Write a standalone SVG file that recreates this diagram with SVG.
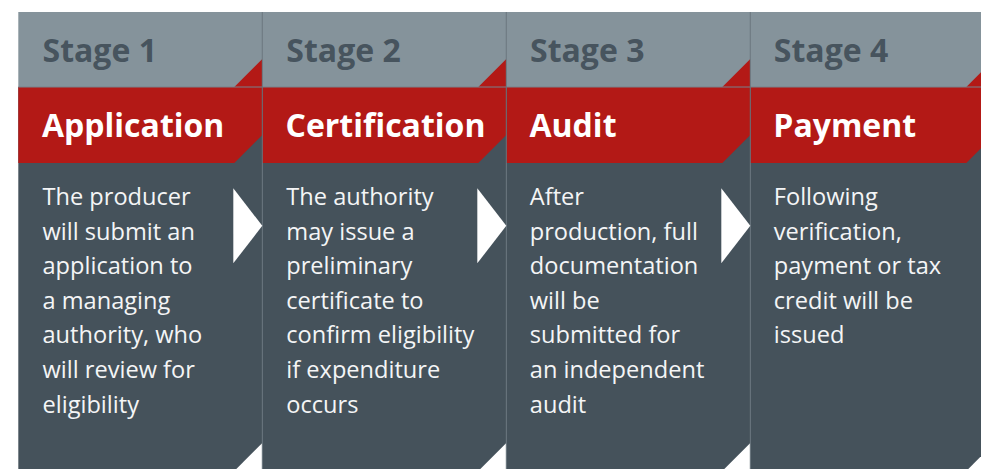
<svg xmlns="http://www.w3.org/2000/svg" width="981" height="469" viewBox="0 0 981 469">
<style>
.hdr{fill:#85939b}
.band{fill:#b31916}
.body{fill:#45525b}
.stage{font-family:"Open Sans","Liberation Sans",sans-serif;font-weight:700;font-size:32px;fill:#47545e}
.title{font-family:"Open Sans","Liberation Sans",sans-serif;font-weight:700;font-size:32px;fill:#ffffff}
.txt{font-family:"Open Sans","Liberation Sans",sans-serif;font-weight:400;font-size:23.6px;fill:#f4f5f6}
.div{stroke:#66727b;stroke-width:1}
.hl{stroke:#76838b;stroke-width:1}
.chev{fill:#ffffff}
</style>
<rect width="981" height="469" fill="#ffffff"/>
<g id="stage1">
<rect class="hdr" x="18.3" y="12" width="244" height="75"/>
<polygon class="body" points="18.3,87 262.3,87 262.3,443 236.3,469 18.3,469"/>
<polygon class="band" points="18.3,87 234.3,87 262.3,59 262.3,135 234.3,163 18.3,163"/>
<text class="stage" x="42.5" y="61.5">Stage 1</text>
<text class="title" x="42" y="137.3">Application</text>
<text class="txt"><tspan x="42.5" y="205">The producer</tspan><tspan x="42.5" y="239.6">will submit an</tspan><tspan x="42.5" y="274.2">application to</tspan><tspan x="42.5" y="308.8">a managing</tspan><tspan x="42.5" y="343.4">authority, who</tspan><tspan x="42.5" y="378">will review for</tspan><tspan x="42.5" y="412.6">eligibility</tspan></text>
</g>
<g id="stage2">
<rect class="hdr" x="262.3" y="12" width="244" height="75"/>
<polygon class="body" points="262.3,87 506.3,87 506.3,443 480.3,469 262.3,469"/>
<polygon class="band" points="262.3,87 478.3,87 506.3,59 506.3,135 478.3,163 262.3,163"/>
<text class="stage" x="286.3" y="61.5">Stage 2</text>
<text class="title" x="285.5" y="137.3">Certification</text>
<text class="txt"><tspan x="286.3" y="205">The authority</tspan><tspan x="286.3" y="239.6">may issue a</tspan><tspan x="286.3" y="274.2">preliminary</tspan><tspan x="286.3" y="308.8">certificate to</tspan><tspan x="286.3" y="343.4">confirm eligibility</tspan><tspan x="286.3" y="378">if expenditure</tspan><tspan x="286.3" y="412.6">occurs</tspan></text>
</g>
<g id="stage3">
<rect class="hdr" x="506.3" y="12" width="244" height="75"/>
<polygon class="body" points="506.3,87 750.3,87 750.3,443 724.3,469 506.3,469"/>
<polygon class="band" points="506.3,87 722.3,87 750.3,59 750.3,135 722.3,163 506.3,163"/>
<text class="stage" x="530" y="61.5">Stage 3</text>
<text class="title" x="529.5" y="137.3">Audit</text>
<text class="txt"><tspan x="529.8" y="205">After</tspan><tspan x="529.8" y="239.6">production, full</tspan><tspan x="529.8" y="274.2">documentation</tspan><tspan x="529.8" y="308.8">will be</tspan><tspan x="529.8" y="343.4">submitted for</tspan><tspan x="529.8" y="378">an independent</tspan><tspan x="529.8" y="412.6">audit</tspan></text>
</g>
<g id="stage4">
<rect class="hdr" x="750.3" y="12" width="244" height="75"/>
<polygon class="body" points="750.3,87 994.3,87 994.3,443 968.3,469 750.3,469"/>
<polygon class="band" points="750.3,87 966.3,87 994.3,59 994.3,135 966.3,163 750.3,163"/>
<text class="stage" x="773.8" y="61.5">Stage 4</text>
<text class="title" x="773.3" y="137.3">Payment</text>
<text class="txt"><tspan x="773.8" y="205">Following</tspan><tspan x="773.8" y="239.6">verification,</tspan><tspan x="773.8" y="274.2">payment or tax</tspan><tspan x="773.8" y="308.8">credit will be</tspan><tspan x="773.8" y="343.4">issued</tspan></text>
</g>
<g id="rules">
<line class="hl" x1="18.3" y1="87" x2="981" y2="87"/>
<line class="div" x1="262.3" y1="12" x2="262.3" y2="469"/>
<line class="div" x1="506.3" y1="12" x2="506.3" y2="469"/>
<line class="div" x1="750.3" y1="12" x2="750.3" y2="469"/>
</g>
<g id="connectors">
<polygon class="chev" points="233.3,188.3 262.3,225.8 233.3,263.3"/>
<polygon class="chev" points="477.3,188.3 506.3,225.8 477.3,263.3"/>
<polygon class="chev" points="721.3,188.3 750.3,225.8 721.3,263.3"/>
</g>
</svg>
